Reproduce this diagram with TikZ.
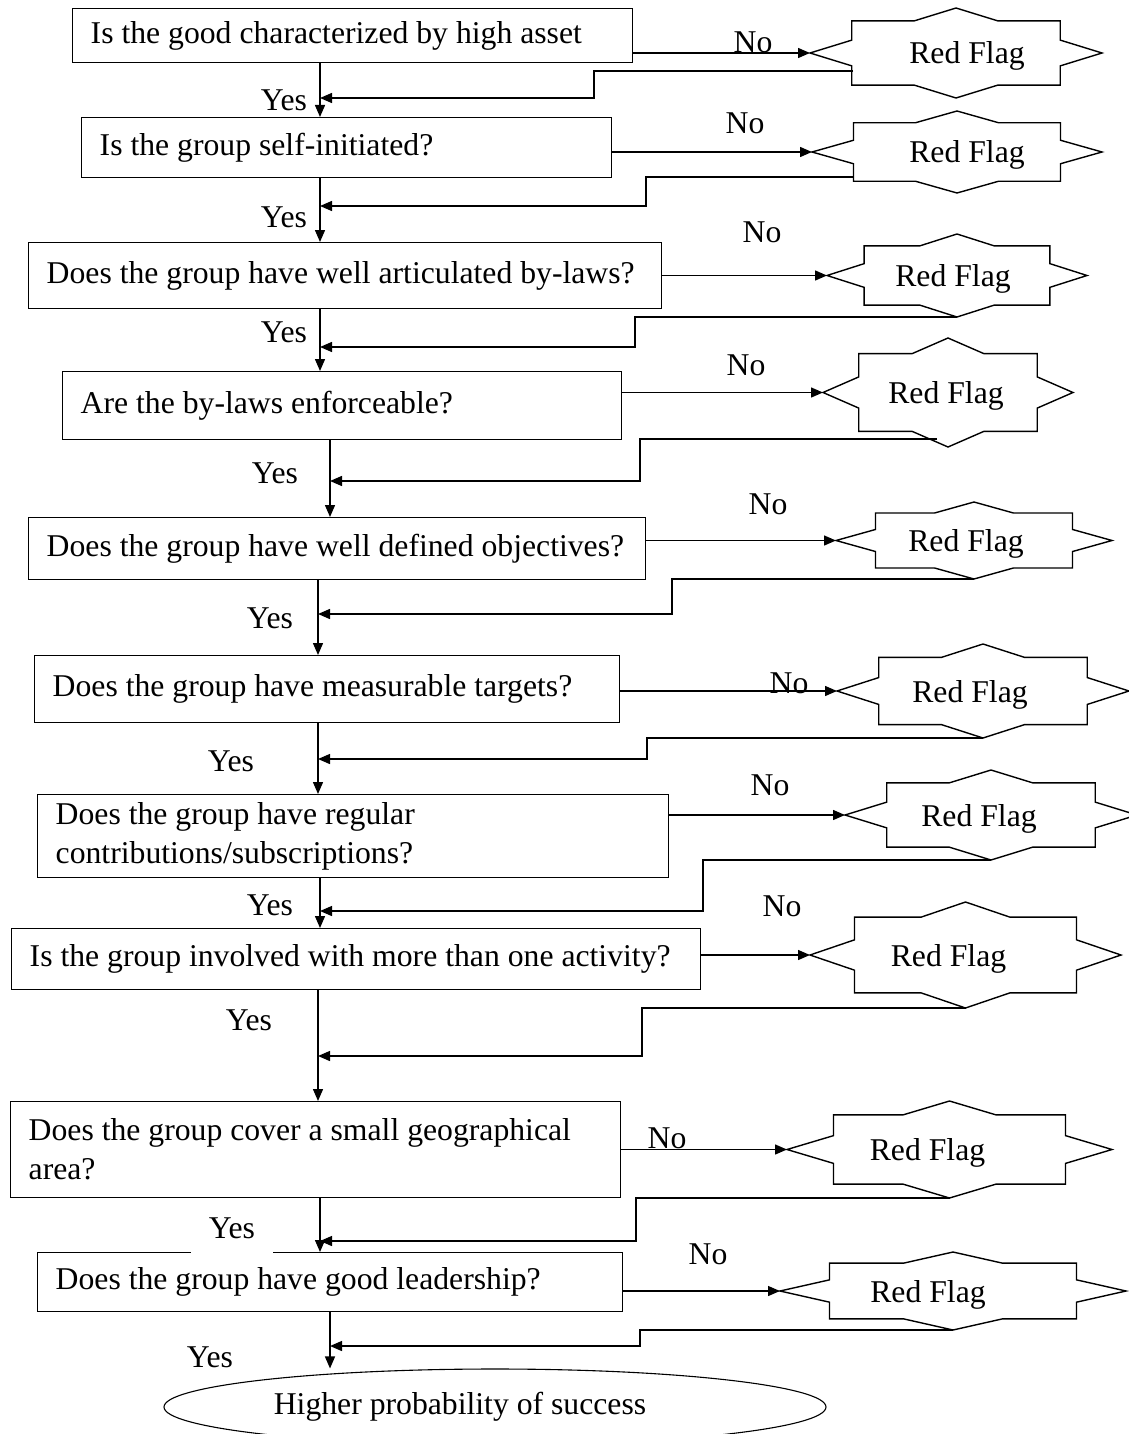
\documentclass[tikz,border=0pt]{standalone}
\usepackage{fontspec}
\setmainfont{Liberation Serif}
\usetikzlibrary{arrows.meta,shapes.geometric}

\tikzset{
  qbox/.style={draw, anchor=north west, align=flush left, inner xsep=18pt, inner ysep=0pt},
  flag/.style={inner sep=0pt, outer sep=0pt},
  flagtext/.style={inner sep=0pt, text depth=0pt},
  lbl/.style={inner sep=1pt, text depth=0pt},
  arr/.style={-{Triangle[length=12pt,width=10pt]}},
  goal/.style={ellipse, draw, line width=1.1pt, minimum width=662pt, minimum height=76pt, inner sep=0pt}
}

% name, centre x, centre y, half width, half height, text shift
\newcommand{\redflag}[6]{%
  \node[flag, minimum width=2*#4, minimum height=2*#5] (#1) at (#2,#3) {};
  \draw[shift={(#1.center)}, xscale=#4, yscale=#5]
    (-1,0) -- (-.714,-.286) -- (-.714,-.714) -- (-.286,-.714) -- (0,-1)
    -- (.286,-.714) -- (.714,-.714) -- (.714,-.286) -- (1,0)
    -- (.714,.286) -- (.714,.714) -- (.286,.714) -- (0,1)
    -- (-.286,.714) -- (-.714,.714) -- (-.714,.286) -- cycle;
  \node[flagtext] (#1-t) at ([xshift=#6]#1.center) {Red Flag};
}

\begin{document}
\begin{tikzpicture}[x=1pt, y=-1pt, line width=1.4pt, font=\fontsize{31.7}{39}\selectfont]
  \useasboundingbox (0,0) rectangle (1128,1434);

  % questions
  \node[qbox, text width=524pt, minimum height=54pt] (q1) at (72,8) {Is the good characterized by high asset};
  \node[qbox, text width=494pt, minimum height=60pt] (q2) at (81,117) {Is the group self-initiated?};
  \node[qbox, text width=597pt, minimum height=66pt] (q3) at (28,242) {Does the group have well articulated by-laws?};
  \node[qbox, text width=523pt, minimum height=68pt] (q4) at (62,371) {Are the by-laws enforceable?};
  \node[qbox, text width=581pt, minimum height=62pt] (q5) at (28,517) {Does the group have well defined objectives?};
  \node[qbox, text width=549pt, minimum height=67pt] (q6) at (34,655) {Does the group have measurable targets?};
  \node[qbox, text width=595pt, minimum height=83pt] (q7) at (37,794) {Does the group have regular\\contributions/subscriptions?};
  \node[qbox, text width=653pt, minimum height=61pt] (q8) at (11,928) {Is the group involved with more than one activity?};
  \node[qbox, text width=574pt, minimum height=96pt] (q9) at (10,1101) {Does the group cover a small geographical\\area?};
  \node[qbox, text width=549pt, minimum height=59pt] (q10) at (37,1252) {Does the group have good leadership?};
  \node[goal] (goal) at (495,1407) {Higher probability of success\hspace*{70pt}};

  % red flags
  \foreach \n/\cx/\cy/\a/\b/\d in {1/956/53/146/45/11, 2/957/152/145/41/10, 3/957/275.5/130/41.5/-4,
      4/948/392.5/125/54.5/-2, 5/974/540.5/138/38.5/-8, 6/983/691/146/47/-13, 7/991/815/146/45/-12,
      8/965.5/955/155.5/53/-17, 9/949.5/1149.5/162.5/48.5/-22, 10/953/1291/173/39/-25}
    \redflag{f\n}{\cx}{\cy}{\a}{\b}{\d};

  % labels
  \foreach \n/\x/\y in {1/753/42, 2/745/123, 3/762/232, 4/746/365, 5/768/504,
      6/789/683, 7/770/785, 8/782/906, 9/667/1138, 10/708/1254}
    \node[lbl] (no\n) at (\x,\y) {No};
  \foreach \n/\x/\y in {1/284/100, 2/284/217, 3/284/332, 4/275/473, 5/270/618,
      6/231/761, 7/270/905, 8/249/1020, 10/210/1357}
    \node[lbl] (yes\n) at (\x,\y) {Yes};
  \node[lbl, fill=white, inner xsep=18pt, inner ysep=17pt] (yes9) at (232,1228) {Yes};

  % junctions on the main line and return points
  \foreach \n/\x/\y in {1/320/98, 2/320/206, 3/320/347, 4/330/481, 5/318/614,
      6/318/759, 7/320/911, 8/318/1056, 9/320/1241, 10/330/1346}
    \coordinate (j\n) at (\x,\y);
  \coordinate (r1) at (853,71);
  \coordinate (r2) at (853,177);
  \coordinate (r4) at (937,439);
  \foreach \n in {3,5,6,7,8,9,10}
    \coordinate (r\n) at (f\n.south);

  % yes line
  \foreach \n [evaluate=\n as \m using int(\n+1)] in {1,...,9}
    \draw[arr] (q\n.south -| j\n) -- (q\m.north -| j\n);
  \draw[arr] (q10.south -| j10) -- (goal.north -| j10);

  % no line and back
  \foreach \n in {1,...,10}
    \draw[arr] (q\n.east |- f\n.west) -- (f\n.west);
  \foreach \n/\s in {1/274, 2/326, 3/315, 4/310, 5/354, 6/329, 7/383, 8/324, 9/316, 10/310}
    \draw[arr] (r\n) -| ([xshift=\s]j\n) -- (j\n);
\end{tikzpicture}
\end{document}
